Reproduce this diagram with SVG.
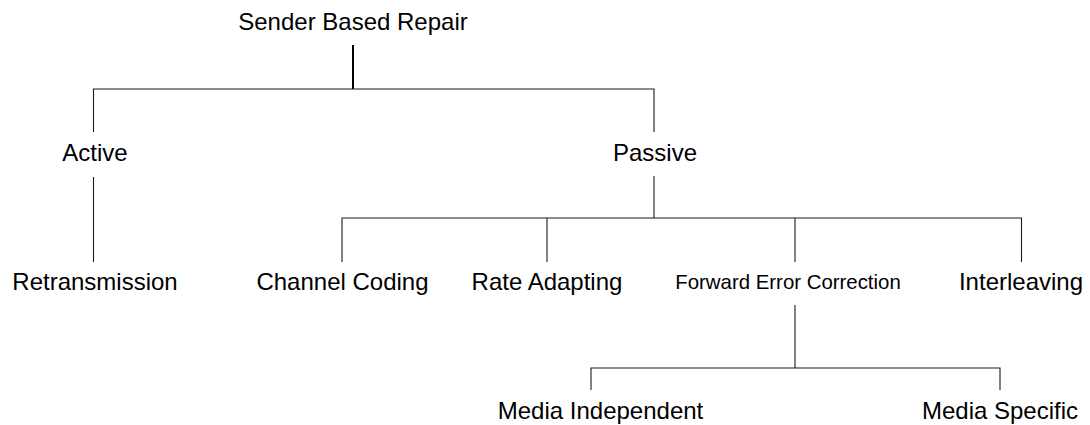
<svg xmlns="http://www.w3.org/2000/svg" width="1090" height="425" viewBox="0 0 1090 425">
  <style>
    .lbl { font-family: "Liberation Sans", Arial, sans-serif; font-size: 24px; fill: #000; text-anchor: middle; }
    .small { font-size: 20.4px; }
    .edge { stroke: #1a1a1a; stroke-width: 1.1; fill: none; }
    .stem { stroke: #000; stroke-width: 2; fill: none; }
  </style>
  <rect width="1090" height="425" fill="#fff"/>

  <g id="connectors">
    <!-- root to first level -->
    <line class="stem" x1="353" y1="45" x2="353" y2="89"/>
    <polyline class="edge" points="93.5,132 93.5,89 654,89 654,132"/>
    <!-- Active to Retransmission -->
    <line class="edge" x1="93.5" y1="177" x2="93.5" y2="262"/>
    <!-- Passive to its children -->
    <line class="edge" x1="654" y1="176" x2="654" y2="218"/>
    <polyline class="edge" points="342,262 342,218 1021.5,218 1021.5,262"/>
    <line class="edge" x1="547" y1="218" x2="547" y2="262"/>
    <line class="edge" x1="795" y1="218" x2="795" y2="262"/>
    <!-- Forward Error Correction to media branches -->
    <line class="edge" x1="795" y1="305" x2="795" y2="368"/>
    <polyline class="edge" points="591,390 591,368 1000,368 1000,390"/>
  </g>

  <g id="node-root"><text class="lbl" x="353" y="30">Sender Based Repair</text></g>
  <g id="node-active"><text class="lbl" x="95" y="161">Active</text></g>
  <g id="node-passive"><text class="lbl" x="655" y="161">Passive</text></g>
  <g id="node-retransmission"><text class="lbl" x="95" y="290">Retransmission</text></g>
  <g id="node-channel-coding"><text class="lbl" x="342.5" y="290">Channel Coding</text></g>
  <g id="node-rate-adapting"><text class="lbl" x="547" y="290">Rate Adapting</text></g>
  <g id="node-fec"><text class="lbl small" x="788" y="289">Forward Error Correction</text></g>
  <g id="node-interleaving"><text class="lbl" x="1021" y="290">Interleaving</text></g>
  <g id="node-media-independent"><text class="lbl" x="600.5" y="419">Media Independent</text></g>
  <g id="node-media-specific"><text class="lbl" x="1000" y="419">Media Specific</text></g>
</svg>
